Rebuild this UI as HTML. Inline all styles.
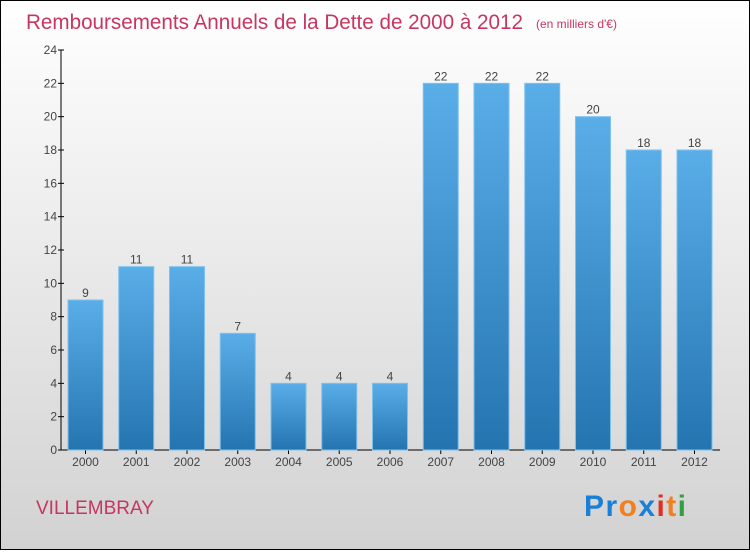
<!DOCTYPE html>
<html><head><meta charset="utf-8"><style>
html,body{margin:0;padding:0}
body{width:750px;height:550px;overflow:hidden;font-family:"Liberation Sans",sans-serif}
</style></head><body>
<svg width="750" height="550" xmlns="http://www.w3.org/2000/svg">
<defs>
<linearGradient id="bg" x1="0" y1="0" x2="0" y2="1"><stop offset="0" stop-color="#ffffff"/><stop offset="1" stop-color="#d2d2d2"/></linearGradient>
<linearGradient id="bar" x1="0" y1="0" x2="0" y2="1"><stop offset="0" stop-color="#5aaee8"/><stop offset="1" stop-color="#2474b0"/></linearGradient>
</defs>
<rect x="0.5" y="0.5" width="749" height="549" fill="url(#bg)" stroke="#000"/>
<text x="26" y="29" font-size="21" fill="#c8365f" textLength="497" lengthAdjust="spacingAndGlyphs">Remboursements Annuels de la Dette de 2000 à 2012</text>
<text x="536" y="28" font-size="12" fill="#c8365f">(en milliers d'€)</text>
<g id="axes"></g>
<g id="bars"></g>
<text x="36" y="514" font-size="19" fill="#c8365f">VILLEMBRAY</text>
<g font-size="30" font-weight="bold" font-family="Liberation Sans, sans-serif">
<text x="584" y="516" textLength="102"><tspan fill="#1a7fd6">Pr</tspan><tspan fill="#f08020">o</tspan><tspan fill="#1a7fd6">x</tspan><tspan fill="#e03020">i</tspan><tspan fill="#f08020">t</tspan><tspan fill="#30a040">i</tspan></text>
</g>
</svg>
<script>
const categories=["2000","2001","2002","2003","2004","2005","2006","2007","2008","2009","2010","2011","2012"];
const values=[9,11,11,7,4,4,4,22,22,22,20,18,18];
const yTicks=[0,2,4,6,8,10,12,14,16,18,20,22,24];
const NS="http://www.w3.org/2000/svg";
const y0=450,yTop=50,yMax=24,xAxis=61,xEnd=720,first=85.5,step=50.75,bw=35;
const yScale=v=>y0-(v/yMax)*(y0-yTop);
const xScale=i=>first+i*step;
function mk(t,a,p){const e=document.createElementNS(NS,t);for(const k in a)e.setAttribute(k,a[k]);p.appendChild(e);return e;}
const ax=document.getElementById('axes'),bg=document.getElementById('bars');
const yl=mk('line',{x1:xAxis,y1:yTop,x2:xAxis,y2:y0,stroke:'#000'},ax);


const xl=mk('line',{x1:xAxis,y1:y0,x2:xEnd,y2:y0,stroke:'#000'},ax);


yTicks.forEach(v=>{
 const y=yScale(v);
 mk('line',{x1:xAxis-3,y1:y,x2:xAxis+3,y2:y,stroke:'#000'},ax);
 const t=mk('text',{x:xAxis-4,y:y+4,'font-size':12,fill:'#444','text-anchor':'end'},ax);
 t.textContent=v;
 
 
});
categories.forEach((c,i)=>{
 const x=xScale(i),v=values[i],y=yScale(v);
 const r=mk('rect',{x:x-bw/2,y:y,width:bw,height:y0-y,fill:'url(#bar)',stroke:'#7ec0ee','stroke-width':1},bg);
 
 
 const l=mk('text',{x:x,y:y-3,'font-size':12,fill:'#444','text-anchor':'middle'},bg);
 l.textContent=v;
 
 
 mk('line',{x1:x,y1:y0,x2:x,y2:y0+4,stroke:'#000'},ax);
 const t=mk('text',{x:x,y:y0+16,'font-size':12,fill:'#444','text-anchor':'middle'},ax);
 t.textContent=c;
 
 
});
</script>
</body></html>
